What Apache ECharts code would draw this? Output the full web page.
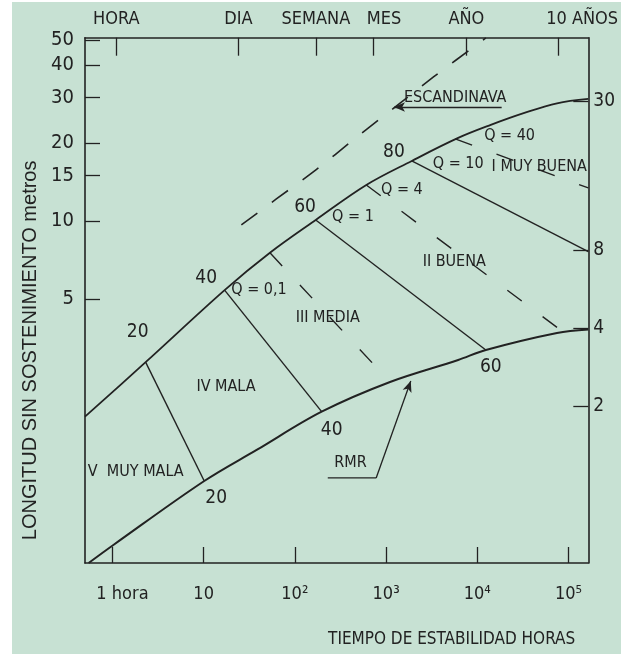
<!DOCTYPE html>
<html><head><meta charset="utf-8">
<script src="https://cdn.jsdelivr.net/npm/echarts@6/dist/echarts.min.js"></script>
<style>
html,body{margin:0;padding:0;background:#ffffff;width:621px;height:654px;overflow:hidden}
#chart{position:absolute;left:12px;top:2px;width:609px;height:652px;}
</style></head><body><div id="chart"></div>
<script>
// ---- axis ranges and ticks ----
const xRange = [0.5, 165000];          // horas
const yRange = [0.478, 51.0];          // metros
const yRightRange = [0.495, 52.8];
const bottomTicks = [1, 10, 100, 1000, 10000, 100000];
const bottomTickLabels = ['1 hora', '10', '10²', '10³', '10⁴', '10⁵'];
const topTicks = [1.1, 24, 170, 720, 7600, 77000];
const topTickLabels = ['HORA', 'DIA', 'SEMANA', 'MES', 'AÑO', '10 AÑOS'];
const leftTicks = [50, 40, 30, 20, 15, 10, 5];
const rightTicks = [30, 8, 4, 2];

// ---- curves [horas, metros] ----
const upperCurve = [[0.5,1.755],[2.31,2.85],[16.97,5.41],[53.3,7.54],[169.3,10.09],[607,13.77],[1912,17.05],[6176,20.92],[14060,23.49],[32850,26.12],[74800,28.47],[165000,29.58]];
const lowerCurve = [[0.548,0.478],[1.023,0.561],[10.15,0.991],[38.1,1.306],[196.6,1.835],[1105,2.39],[6176,2.906],[12420,3.177],[74800,3.695],[165000,3.81]];
const scandinavianCurve = [[25.9,9.65],[62.7,12.16],[170.1,15.74],[450,20.73],[1221,27.31],[3311,35.97],[12420,50.9]];

// RMR class boundaries (solid)
const rmr20Line = [[2.31,2.85],[10.15,0.991]];
const rmr40Line = [[16.97,5.41],[196.6,1.835]];
const rmr60Line = [[169.3,10.09],[12420,3.177]];
const rmr80Line = [[1912,17.05],[165000,7.61]];
// Q boundaries (dashed)
const q01Line = [[53.3,7.54],[1105,2.39]];
const q1Line = [[607,13.77],[84700,3.76]];
const q40Line = [[5728,20.73],[165000,13.41]];

// annotation text [horas, metros, text]
const numberLabels = [[1.89,3.73,'20'],[10.67,6.03,'40'],[129.3,11.33,'60'],[1221,18.47,'80'],[13.7,0.852,'20'],[253.6,1.56,'40'],[14060,2.73,'60']];
const textLabels = [[40.4,5.41,'Q = 0,1'],[433.5,10.36,'Q = 1'],[1490,13.18,'Q = 4'],[6176,16.6,'Q = 10'],[22600,21.28,'Q = 40'],[47800,16.16,'I MUY BUENA'],[5590,6.95,'II BUENA'],[229.5,4.22,'III MEDIA'],[17.58,2.286,'IV MALA'],[1.8,1.074,'V  MUY MALA'],[5728,29.86,'ESCANDINAVA'],[407,1.163,'RMR']];
const scandinavianArrow = [[18510,27.54],[1221,27.54]];
const rmrUnderline = [[229.5,1.018],[778.8,1.018]];
const rmrArrow = [[778.8,1.018],[1866,2.41]];

const INK = '#222222';
const FONT = "'Liberation Sans Narrow','DejaVu Sans Condensed','Liberation Sans',sans-serif";

function nearestLabel(v, ticks, labels) {
  let best = 0, bd = Infinity;
  ticks.forEach((t, i) => { const d = Math.abs(Math.log(v / t)); if (d < bd) { bd = d; best = i; } });
  return labels[best];
}

const richBase = { fontFamily: FONT, fontSize: 18, color: INK };
const chart = echarts.init(document.getElementById('chart'), null, { renderer: 'canvas' });

function lineSeries(name, data, opts) {
  return Object.assign({
    name, type: 'line', data, symbol: 'none', showSymbol: false, silent: true,
    xAxisIndex: 0, yAxisIndex: 0, animation: false,
    lineStyle: { color: INK, width: 1.4 }
  }, opts || {});
}

function textSeries(name, rows, size) {
  return {
    name, type: 'scatter', silent: true, animation: false,
    symbol: 'circle', symbolSize: 0, itemStyle: { color: INK, opacity: 1 },
    data: rows.map(a => ({ value: [a[0], a[1]], name: a[2] })),
    label: { show: true, position: 'inside', formatter: '{b}', fontFamily: FONT, fontSize: size, color: INK, opacity: 1, textBorderWidth: 0 }
  };
}

const series = [
  lineSeries('upper', upperCurve, { smooth: 0.35, lineStyle: { color: INK, width: 1.8 } }),
  lineSeries('lower', lowerCurve, { smooth: 0.35, lineStyle: { color: INK, width: 2 } }),
  lineSeries('escandinava', scandinavianCurve, { smooth: 0.3, lineStyle: { color: INK, width: 1.6, type: [20, 18] } }),
  lineSeries('rmr20', rmr20Line),
  lineSeries('rmr40', rmr40Line),
  lineSeries('rmr60', rmr60Line),
  lineSeries('rmr80', rmr80Line),
  lineSeries('q01', q01Line, { lineStyle: { color: INK, width: 1.4, type: [18, 26] } }),
  lineSeries('q1', q1Line, { lineStyle: { color: INK, width: 1.4, type: [18, 26] } }),
  lineSeries('q40', q40Line, { lineStyle: { color: INK, width: 1.4, type: [18, 26] } }),
  lineSeries('rmrUnderline', rmrUnderline, { lineStyle: { color: INK, width: 1.3 } }),
  lineSeries('arrows', [], {
    markLine: {
      silent: true, animation: false, symbol: ['none', 'arrow'], symbolSize: [7, 11],
      label: { show: false }, lineStyle: { color: INK, width: 1.3, type: 'solid' },
      data: [
        [{ coord: scandinavianArrow[0] }, { coord: scandinavianArrow[1] }],
        [{ coord: rmrArrow[0] }, { coord: rmrArrow[1] }]
      ]
    }
  }),
  textSeries('numbers', numberLabels, 19),
  textSeries('texts', textLabels, 16)
];

const option = {
  backgroundColor: '#c7e1d3',
  animation: false,
  grid: { left: 71.3, right: 28.3, top: 35.7, bottom: 91, containLabel: false },
  xAxis: [
    {
      type: 'log', position: 'bottom', min: xRange[0], max: xRange[1],
      axisLine: { show: true, onZero: false, lineStyle: { color: INK, width: 1.6 } },
      axisTick: { show: true, inside: true, length: 16, customValues: bottomTicks, lineStyle: { color: INK, width: 1.3 } },
      minorTick: { show: false }, splitLine: { show: false },
      axisLabel: {
        show: true, margin: 22, customValues: bottomTicks,
        formatter: v => { const s = nearestLabel(v, bottomTicks, bottomTickLabels); return s === '1 hora' ? '{s|' + s + '}' : '{n|' + s + '}'; },
        rich: { n: richBase, s: Object.assign({}, richBase, { padding: [0, 0, 0, 20] }) }
      },
      name: 'TIEMPO DE ESTABILIDAD HORAS', nameLocation: 'middle', nameGap: 68,
      nameTextStyle: { fontFamily: FONT, fontSize: 17, color: INK, padding: [0, 0, 0, 230] }
    },
    {
      type: 'log', position: 'top', min: xRange[0], max: xRange[1],
      axisLine: { show: true, onZero: false, lineStyle: { color: INK, width: 1.6 } },
      axisTick: { show: true, inside: true, length: 18, customValues: topTicks, lineStyle: { color: INK, width: 1.3 } },
      minorTick: { show: false }, splitLine: { show: false },
      axisLabel: {
        show: true, margin: 9, customValues: topTicks,
        formatter: v => { const s = nearestLabel(v, topTicks, topTickLabels); if (s === 'MES') return '{m|' + s + '}'; if (s === '10 AÑOS') return '{t|' + s + '}'; return '{n|' + s + '}'; },
        rich: { n: richBase, m: Object.assign({}, richBase, { padding: [0, 0, 0, 22] }), t: Object.assign({}, richBase, { padding: [0, 0, 0, 48] }) }
      }
    }
  ],
  yAxis: [
    {
      type: 'log', position: 'left', min: yRange[0], max: yRange[1],
      axisLine: { show: true, onZero: false, lineStyle: { color: INK, width: 1.6 } },
      axisTick: { show: true, inside: true, length: 15, customValues: leftTicks, lineStyle: { color: INK, width: 1.3 } },
      minorTick: { show: false }, splitLine: { show: false },
      axisLabel: { show: true, margin: 11, customValues: leftTicks, fontFamily: FONT, fontSize: 20, color: INK, formatter: v => String(Math.round(v)) },
      name: 'LONGITUD SIN SOSTENIMIENTO metros', nameLocation: 'middle', nameGap: 45,
      nameTextStyle: { fontFamily: "'Liberation Sans','DejaVu Sans',sans-serif", fontSize: 20, color: INK, padding: [0, 100, 0, 0] }
    },
    {
      type: 'log', position: 'right', min: yRightRange[0], max: yRightRange[1],
      axisLine: { show: true, onZero: false, lineStyle: { color: INK, width: 1.6 } },
      axisTick: { show: true, inside: true, length: 15, customValues: rightTicks, lineStyle: { color: INK, width: 1.3 } },
      minorTick: { show: false }, splitLine: { show: false },
      axisLabel: { show: true, margin: 5, customValues: rightTicks, fontFamily: FONT, fontSize: 19, color: INK, formatter: v => String(Math.round(v)) }
    }
  ],
  series
};
chart.setOption(option);
</script></body></html>
